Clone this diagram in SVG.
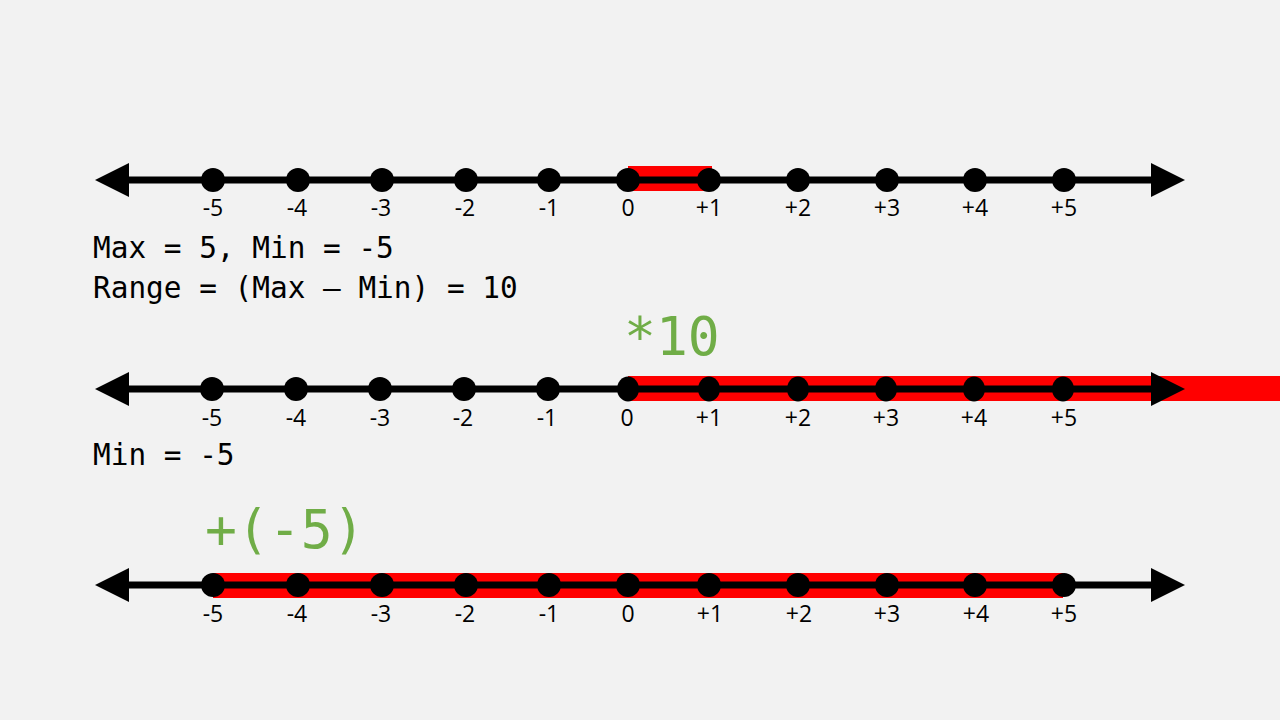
<svg xmlns="http://www.w3.org/2000/svg" width="1280" height="720" viewBox="0 0 1280 720">
<defs>
<style>
.bg{fill:#f2f2f2}
.red{fill:#ff0000}
.axis{stroke:#000;stroke-width:7;fill:none}
.head{fill:#000}
.dot{fill:#000}
.lbl{font-family:"Open Sans","Noto Sans",sans-serif;font-size:23px;fill:#000;text-anchor:middle}
.mono{font-family:"DejaVu Sans Mono","Liberation Mono",monospace;font-size:29.4px;fill:#000}
.green{font-family:"DejaVu Sans Mono","Liberation Mono",monospace;font-size:53px;fill:#70ad47}
</style>
</defs>
<rect class="bg" x="0" y="0" width="1280" height="720"/>

<g id="line1">
<rect class="red" x="628" y="166" width="84" height="25"/>
<line class="axis" x1="115" y1="180" x2="1165" y2="180"/>
<polygon class="head" points="95,180 129,163 129,197"/>
<polygon class="head" points="1185,180 1151,163 1151,197"/>
<g class="dot">
<circle cx="213" cy="180" r="12"/><circle cx="298" cy="180" r="12"/><circle cx="382" cy="180" r="12"/><circle cx="466" cy="180" r="12"/><circle cx="549" cy="180" r="12"/><circle cx="628" cy="180" r="12"/><circle cx="709" cy="180" r="12"/><circle cx="798" cy="180" r="12"/><circle cx="887" cy="180" r="12"/><circle cx="975" cy="180" r="12"/><circle cx="1064" cy="180" r="12"/>
</g>
<g class="lbl">
<text x="213" y="216">-5</text><text x="297" y="216">-4</text><text x="381" y="216">-3</text><text x="465" y="216">-2</text><text x="549" y="216">-1</text><text x="628" y="216">0</text><text x="709" y="216">+1</text><text x="798" y="216">+2</text><text x="887" y="216">+3</text><text x="975" y="216">+4</text><text x="1064" y="216">+5</text>
</g>
</g>

<g id="text1">
<text class="mono" x="93" y="258">Max = 5, Min = -5</text>
<text class="mono" x="93" y="298">Range = (Max – Min) = 10</text>
</g>

<g id="op1"><text class="green" x="624" y="355">*10</text></g>

<g id="line2">
<rect class="red" x="628" y="376" width="652" height="25"/>
<line class="axis" x1="115" y1="389" x2="1165" y2="389"/>
<polygon class="head" points="95,389 129,372 129,406"/>
<polygon class="head" points="1185,389 1151,372 1151,406"/>
<g class="dot">
<ellipse cx="212" cy="389" rx="12" ry="12"/><ellipse cx="296" cy="389" rx="12" ry="12"/><ellipse cx="380" cy="389" rx="12" ry="12"/><ellipse cx="464" cy="389" rx="12" ry="12"/><ellipse cx="548" cy="389" rx="12" ry="12"/><ellipse cx="628" cy="389" rx="11" ry="12.5"/><ellipse cx="709" cy="389" rx="11" ry="12.5"/><ellipse cx="798" cy="389" rx="11" ry="12.5"/><ellipse cx="886" cy="389" rx="11" ry="12.5"/><ellipse cx="974" cy="389" rx="11" ry="12.5"/><ellipse cx="1063" cy="389" rx="11" ry="12.5"/>
</g>
<g class="lbl">
<text x="212" y="426">-5</text><text x="296" y="426">-4</text><text x="380" y="426">-3</text><text x="463" y="426">-2</text><text x="547" y="426">-1</text><text x="627" y="426">0</text><text x="709" y="426">+1</text><text x="798" y="426">+2</text><text x="886" y="426">+3</text><text x="974" y="426">+4</text><text x="1064" y="426">+5</text>
</g>
</g>

<g id="text2"><text class="mono" x="93" y="465">Min = -5</text></g>

<g id="op2"><text class="green" x="205" y="548">+(-5)</text></g>

<g id="line3">
<rect class="red" x="213" y="573" width="850" height="25"/>
<line class="axis" x1="115" y1="585" x2="1165" y2="585"/>
<polygon class="head" points="95,585 129,568 129,602"/>
<polygon class="head" points="1185,585 1151,568 1151,602"/>
<g class="dot">
<circle cx="213" cy="585" r="12"/><circle cx="298" cy="585" r="12"/><circle cx="382" cy="585" r="12"/><circle cx="466" cy="585" r="12"/><circle cx="549" cy="585" r="12"/><circle cx="628" cy="585" r="12"/><circle cx="709" cy="585" r="12"/><circle cx="798" cy="585" r="12"/><circle cx="887" cy="585" r="12"/><circle cx="975" cy="585" r="12"/><circle cx="1064" cy="585" r="12"/>
</g>
<g class="lbl">
<text x="213" y="622">-5</text><text x="297" y="622">-4</text><text x="381" y="622">-3</text><text x="465" y="622">-2</text><text x="549" y="622">-1</text><text x="628" y="622">0</text><text x="710" y="622">+1</text><text x="799" y="622">+2</text><text x="887" y="622">+3</text><text x="976" y="622">+4</text><text x="1064" y="622">+5</text>
</g>
</g>
</svg>
